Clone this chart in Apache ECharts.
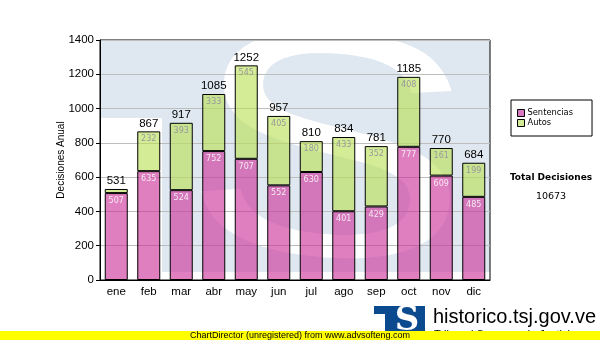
<!DOCTYPE html>
<html>
<head>
<meta charset="utf-8">
<script src="https://cdn.jsdelivr.net/npm/echarts@6/dist/echarts.min.js"></script>
<style>
  html, body { margin: 0; padding: 0; background: #fff; }
  #chart { width: 600px; height: 340px; }
</style>
</head>
<body>
<div id="chart"></div>
<script>
// Monthly decisions: sentences and rulings ("autos")
const months = ['ene', 'feb', 'mar', 'abr', 'may', 'jun', 'jul', 'ago', 'sep', 'oct', 'nov', 'dic'];
const sentencias = [507, 635, 524, 752, 707, 552, 630, 401, 429, 777, 609, 485];
const autos = [24, 232, 393, 333, 545, 405, 180, 433, 352, 408, 161, 199];
const seriesNames = ['Sentencias', 'Autos'];

const totals = sentencias.map((v, i) => v + autos[i]);
const grandTotal = totals.reduce((a, b) => a + b, 0);

const chart = echarts.init(document.getElementById('chart'), null, { renderer: 'canvas' });

const sansArial = '"Liberation Sans", Arial, sans-serif';
const sansVerdana = '"DejaVu Sans", Verdana, sans-serif';

chart.setOption({
  animation: false,
  backgroundColor: '#fff',
  grid: {
    left: 100, right: 110, top: 40, bottom: 60,
    show: true, borderColor: '#000', borderWidth: 1, backgroundColor: 'transparent'
  },
  legend: {
    orient: 'vertical',
    left: 511, top: 100,
    padding: [9, 19, 9, 6],
    itemGap: 2,
    itemWidth: 7, itemHeight: 7,
    backgroundColor: '#fff', borderColor: '#000', borderWidth: 1, borderRadius: 0,
    icon: 'rect',
    textStyle: { fontFamily: sansVerdana, fontSize: 8.3, color: '#000', padding: [0, 0, 0, -2] },
    data: [
      { name: seriesNames[0], itemStyle: { color: '#d878c0', borderColor: '#000', borderWidth: 1 } },
      { name: seriesNames[1], itemStyle: { color: '#d2ea94', borderColor: '#000', borderWidth: 1 } }
    ]
  },
  xAxis: {
    type: 'category',
    data: months,
    axisLine: { lineStyle: { color: '#000', width: 1 } },
    axisTick: { alignWithLabel: true, length: 4, lineStyle: { color: '#000' } },
    axisLabel: { color: '#000', fontFamily: sansArial, fontSize: 11.5, margin: 6 }
  },
  yAxis: {
    type: 'value',
    min: 0, max: 1400, interval: 200,
    name: 'Decisiones Anual',
    nameLocation: 'middle',
    nameGap: 34,
    nameMoveOverlap: false,
    nameTextStyle: { color: '#000', fontFamily: sansArial, fontSize: 10 },
    axisLine: { show: true, lineStyle: { color: '#000', width: 1 } },
    axisTick: { show: true, length: 4, lineStyle: { color: '#000' } },
    axisLabel: { color: '#000', fontFamily: sansArial, fontSize: 11.5, margin: 6, formatter: v => String(v) },
    splitLine: { lineStyle: { color: '#bdbdbd', width: 1 } }
  },
  series: [
    {
      name: seriesNames[0],
      type: 'bar',
      stack: 'dec',
      barWidth: 23,
      data: sentencias,
      itemStyle: { color: 'rgba(203,42,150,0.6)', borderColor: '#000', borderWidth: 1 },
      label: {
        show: true, position: 'insideTop', distance: 4,
        color: '#f6e8f2', fontFamily: sansVerdana, fontSize: 8
      }
    },
    {
      name: seriesNames[1],
      type: 'bar',
      stack: 'dec',
      barWidth: 23,
      data: autos,
      itemStyle: { color: 'rgba(183,223,80,0.6)', borderColor: '#000', borderWidth: 1 },
      label: {
        show: true, position: 'insideTop', distance: 4,
        color: '#999', fontFamily: sansVerdana, fontSize: 8,
        formatter: p => (p.value < 40 ? '' : String(p.value))
      }
    },
    {
      name: 'Total',
      type: 'bar',
      stack: 'dec',
      barWidth: 23,
      silent: true,
      data: totals.map(() => 0),
      itemStyle: { color: 'transparent', borderWidth: 0 },
      label: {
        show: true, position: 'top', distance: 2,
        color: '#000', fontFamily: sansArial, fontSize: 11.5,
        formatter: p => String(totals[p.dataIndex])
      }
    }
  ],
  graphic: [
    // faded court emblem behind the plot
    { type: 'rect', z: -10, shape: { x: 100, y: 40, width: 390, height: 232 }, style: { fill: '#dfe8f1' } },
    { type: 'rect', z: -9, shape: { x: 100, y: 118, width: 62, height: 162 }, style: { fill: '#fff' } },
    {
      type: 'text', z: -8, x: 328, y: 166, scaleX: 1.35, rotation: -0.08,
      style: { text: 'S', fontFamily: sansArial, fontSize: 320, fill: '#fff', align: 'center', verticalAlign: 'middle' }
    },
    // summary block
    {
      type: 'text', x: 551, y: 178,
      style: { text: 'Total Decisiones', fontFamily: sansVerdana, fontWeight: 'bold', fontSize: 9, fill: '#000', align: 'center', verticalAlign: 'middle' }
    },
    {
      type: 'text', x: 551, y: 197,
      style: { text: String(grandTotal), fontFamily: sansVerdana, fontSize: 9.5, fill: '#000', align: 'center', verticalAlign: 'middle' }
    },
    // site logo
    { type: 'rect', shape: { x: 374, y: 306, width: 51, height: 34 }, style: { fill: '#0c4a8f' } },
    { type: 'rect', shape: { x: 374, y: 314, width: 11, height: 26 }, style: { fill: '#fff' } },
    {
      type: 'text', x: 407, y: 321,
      style: { text: 'S', fontFamily: '"DejaVu Serif", serif', fontWeight: 'bold', fontSize: 34, fill: '#fff', align: 'center', verticalAlign: 'middle' }
    },
    {
      type: 'text', x: 433, y: 317,
      style: { text: 'historico.tsj.gov.ve', fontFamily: sansArial, fontSize: 20, fill: '#000', align: 'left', verticalAlign: 'middle' }
    },
    {
      type: 'text', x: 434, y: 329,
      style: { text: 'Tribunal Supremo de Justicia', fontFamily: sansArial, fontSize: 11, fill: '#000', align: 'left', verticalAlign: 'top' }
    },
    // footer band
    { type: 'rect', z: 50, shape: { x: 0, y: 331, width: 600, height: 9 }, style: { fill: '#ffff00' } },
    {
      type: 'text', z: 51, x: 300, y: 335.5,
      style: { text: 'ChartDirector (unregistered) from www.advsofteng.com', fontFamily: sansArial, fontSize: 9, fill: '#000', align: 'center', verticalAlign: 'middle' }
    }
  ]
});
</script>
</body>
</html>
